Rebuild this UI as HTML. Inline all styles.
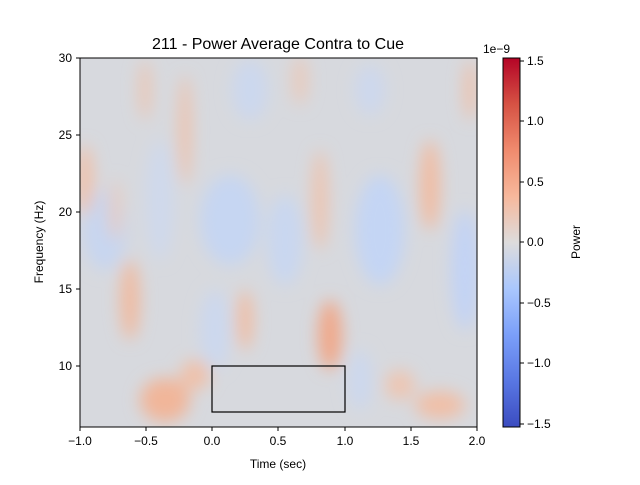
<!DOCTYPE html>
<html><head><meta charset="utf-8"><style>
body{margin:0;background:#fff;font-family:"Liberation Sans",sans-serif;}
</style></head><body>
<svg width="640" height="480" xmlns="http://www.w3.org/2000/svg" font-family="Liberation Sans, sans-serif">
<defs>
<filter id="b" x="-50%" y="-50%" width="200%" height="200%"><feGaussianBlur stdDeviation="8"/></filter>
<clipPath id="c"><rect x="80" y="58" width="397" height="369"/></clipPath>
<linearGradient id="cb" x1="0" y1="1" x2="0" y2="0">
<stop offset="0" stop-color="#3b4cc0"/><stop offset="0.125" stop-color="#5977e3"/>
<stop offset="0.25" stop-color="#7b9ff9"/><stop offset="0.375" stop-color="#aac7fd"/>
<stop offset="0.5" stop-color="#dddcdc"/><stop offset="0.625" stop-color="#f7b89c"/>
<stop offset="0.75" stop-color="#f08b6e"/><stop offset="0.875" stop-color="#d65244"/>
<stop offset="1" stop-color="#b40426"/></linearGradient>
</defs>
<text x="278" y="49" font-size="16" text-anchor="middle">211 - Power Average Contra to Cue</text>
<g clip-path="url(#c)">
<rect x="80" y="58" width="397" height="369" fill="#d7d9de"/>
<g filter="url(#b)">
<ellipse cx="105" cy="230" rx="22" ry="40" fill="#c7d6f0"/>
<ellipse cx="230" cy="220" rx="30" ry="45" fill="#c6d6f2"/>
<ellipse cx="285" cy="240" rx="18" ry="45" fill="#c9d7f0"/>
<ellipse cx="380" cy="230" rx="25" ry="55" fill="#c4d5f4"/>
<ellipse cx="465" cy="270" rx="14" ry="60" fill="#c2d3f5"/>
<ellipse cx="250" cy="90" rx="18" ry="30" fill="#ccd8ee"/>
<ellipse cx="370" cy="90" rx="15" ry="25" fill="#cdd8ed"/>
<ellipse cx="215" cy="330" rx="15" ry="40" fill="#ccd8ee"/>
<ellipse cx="160" cy="200" rx="14" ry="60" fill="#cfd9ec"/>
<ellipse cx="360" cy="380" rx="12" ry="30" fill="#ccd8ee"/>
<ellipse cx="85" cy="180" rx="8" ry="35" fill="#f0c0a8"/>
<ellipse cx="130" cy="300" rx="10" ry="40" fill="#efbba2"/>
<ellipse cx="115" cy="210" rx="6" ry="30" fill="#e8cbbd"/>
<ellipse cx="185" cy="130" rx="6" ry="55" fill="#efc1aa"/>
<ellipse cx="145" cy="90" rx="6" ry="30" fill="#ebc6b4"/>
<ellipse cx="165" cy="400" rx="25" ry="22" fill="#f1b69a"/>
<ellipse cx="195" cy="375" rx="15" ry="15" fill="#efc1aa"/>
<ellipse cx="245" cy="320" rx="8" ry="30" fill="#f0bda4"/>
<ellipse cx="320" cy="200" rx="8" ry="50" fill="#edc4b0"/>
<ellipse cx="330" cy="335" rx="12" ry="35" fill="#f0a88a"/>
<ellipse cx="430" cy="185" rx="10" ry="45" fill="#f1bca2"/>
<ellipse cx="470" cy="90" rx="6" ry="30" fill="#efc0a9"/>
<ellipse cx="440" cy="405" rx="25" ry="14" fill="#f0bfa7"/>
<ellipse cx="400" cy="385" rx="15" ry="15" fill="#edc6b3"/>
<ellipse cx="300" cy="80" rx="8" ry="25" fill="#e8cbbd"/>
</g>
</g>
<rect x="212" y="366" width="133" height="46" fill="none" stroke="#000" stroke-width="1.2"/>
<rect x="80" y="58" width="397" height="369" fill="none" stroke="#000" stroke-width="1"/>
<g stroke="#000">
<line x1="80" y1="427" x2="80" y2="431"/><line x1="146" y1="427" x2="146" y2="431"/>
<line x1="212" y1="427" x2="212" y2="431"/><line x1="278" y1="427" x2="278" y2="431"/>
<line x1="345" y1="427" x2="345" y2="431"/><line x1="411" y1="427" x2="411" y2="431"/>
<line x1="477" y1="427" x2="477" y2="431"/>
<line x1="76" y1="58" x2="80" y2="58"/><line x1="76" y1="135" x2="80" y2="135"/>
<line x1="76" y1="212" x2="80" y2="212"/><line x1="76" y1="289" x2="80" y2="289"/>
<line x1="76" y1="366" x2="80" y2="366"/>
</g>
<g font-size="12" text-anchor="middle">
<text x="80" y="445">−1.0</text><text x="146" y="445">−0.5</text><text x="212" y="445">0.0</text>
<text x="278" y="445">0.5</text><text x="345" y="445">1.0</text><text x="411" y="445">1.5</text><text x="477" y="445">2.0</text>
<text x="278" y="468">Time (sec)</text>
</g>
<g font-size="12" text-anchor="end">
<text x="72" y="62">30</text><text x="72" y="139">25</text><text x="72" y="216">20</text>
<text x="72" y="293">15</text><text x="72" y="370">10</text>
</g>
<text transform="translate(43,242) rotate(-90)" font-size="12" text-anchor="middle">Frequency (Hz)</text>
<rect x="503" y="58" width="17" height="369" fill="url(#cb)" stroke="#000" stroke-width="1"/>
<g stroke="#000">
<line x1="520" y1="61" x2="524" y2="61"/><line x1="520" y1="121" x2="524" y2="121"/>
<line x1="520" y1="182" x2="524" y2="182"/><line x1="520" y1="242" x2="524" y2="242"/>
<line x1="520" y1="303" x2="524" y2="303"/><line x1="520" y1="363" x2="524" y2="363"/>
<line x1="520" y1="424" x2="524" y2="424"/>
</g>
<g font-size="12">
<text x="527" y="65">1.5</text><text x="527" y="125">1.0</text><text x="527" y="186">0.5</text>
<text x="527" y="246">0.0</text><text x="527" y="307">−0.5</text><text x="527" y="367">−1.0</text>
<text x="527" y="428">−1.5</text>
<text x="483" y="53">1e−9</text>
</g>
<text transform="translate(580,242) rotate(-90)" font-size="12" text-anchor="middle">Power</text>
</svg>
</body></html>
